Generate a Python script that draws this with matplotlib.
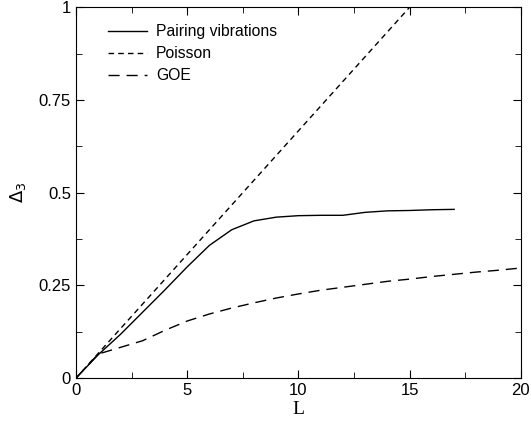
import matplotlib
matplotlib.use("Agg")
import matplotlib.pyplot as plt
from matplotlib.ticker import MultipleLocator, FuncFormatter

# Delta_3 spectral rigidity vs L
L_pair = [0, 1, 2, 3, 4, 5, 6, 7, 8, 9, 10, 11, 12, 13, 14, 15, 16, 17]
d3_pair = [0, 0.063, 0.118, 0.178, 0.238, 0.300, 0.358, 0.400, 0.424, 0.434,
           0.438, 0.439, 0.439, 0.447, 0.451, 0.452, 0.454, 0.455]

L_poisson = [0, 15]
d3_poisson = [0, 1.0]

L_goe = [0, 1, 2, 3, 4, 5, 6, 7, 8, 9, 10, 11, 12, 13, 14, 15, 16, 17, 18, 19, 20]
d3_goe = [0, 0.065, 0.083, 0.101, 0.129, 0.154, 0.173, 0.189, 0.203, 0.216,
          0.227, 0.237, 0.245, 0.253, 0.261, 0.267, 0.274, 0.280, 0.286, 0.291, 0.297]

plt.rcParams["font.family"] = ["Liberation Sans", "DejaVu Sans"]

fig = plt.figure(figsize=(5.31, 4.23), dpi=100)
ax = fig.add_axes([0.143, 0.106, 0.838, 0.877])

ax.plot(L_pair, d3_pair, "-", color="black", lw=1.0, label="Pairing vibrations")
ax.plot(L_poisson, d3_poisson, color="black", lw=1.0, dashes=(4, 3), label="Poisson")
ax.plot(L_goe, d3_goe, color="black", lw=1.0, dashes=(8, 5), label="GOE")

ax.set_xlim(0, 20)
ax.set_ylim(0, 1)
ax.xaxis.set_major_locator(MultipleLocator(5))
ax.xaxis.set_minor_locator(MultipleLocator(2.5))
ax.yaxis.set_major_locator(MultipleLocator(0.25))
ax.yaxis.set_minor_locator(MultipleLocator(0.125))
ax.yaxis.set_major_formatter(FuncFormatter(lambda v, p: "%g" % v))
ax.tick_params(which="both", direction="in", top=True, right=True, labelsize=12)
ax.tick_params(which="major", length=6)
ax.tick_params(which="minor", length=4)

ax.set_xlabel("L", family="Liberation Serif", fontsize=14, labelpad=2)
ax.set_ylabel(r"$\Delta_3$", fontsize=13, labelpad=8)

leg = ax.legend(loc="upper left", frameon=False, fontsize=11.3, handlelength=2.5,
                handletextpad=0.55, labelspacing=0.45, borderpad=0,
                borderaxespad=0, bbox_to_anchor=(0.072, 0.954))

fig.savefig("out.png", dpi=100)
